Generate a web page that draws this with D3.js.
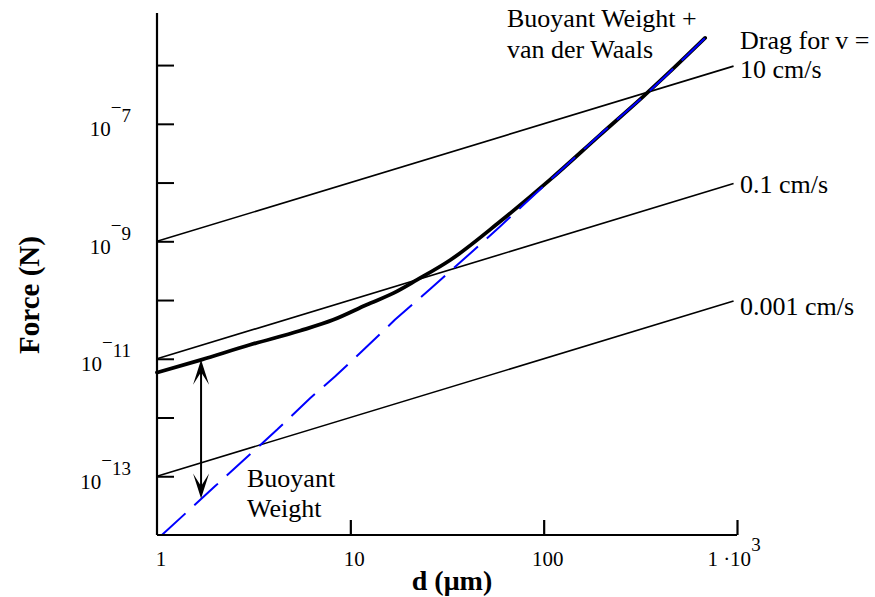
<!DOCTYPE html>
<html><head><meta charset="utf-8">
<script src="https://cdn.jsdelivr.net/npm/d3@7"></script>
<style>
body{margin:0;background:#fff;}
svg{display:block;}
text{font-family:"Liberation Serif","Times New Roman",serif;fill:#000;}
</style></head>
<body>
<svg id="chart" width="875" height="597"></svg>
<script>
// ---- data ----
const xTicks = [1, 10, 100, 1000];
const xTickLabels = ["1", "10", "100", "1 ·10"];
const xTickSup = ["", "", "", "3"];
const yMajor = [1e-13, 1e-11, 1e-9, 1e-7];
const yMajorExp = ["13", "11", "9", "7"];
const yAllTicks = [1e-13, 1e-12, 1e-11, 1e-10, 1e-9, 1e-8, 1e-7, 1e-6];
const xDomain = [1, 1000];
const yDomain = [1e-14, 7.7e-6];

const dragD = [1, 960];
const drag10 = [1e-9, 9.6e-7];
const drag01 = [1e-11, 9.6e-9];
const drag0001 = [1e-13, 9.6e-11];

const bwD = [1.06, 2, 3, 4.2, 6.19, 8.33, 11.2, 17, 25.8, 39.2, 59.5, 108, 196, 328, 433, 684];
const bwF = [1.0e-14, 6.8e-14, 2.3e-13, 6.3e-13, 2.13e-12, 4.98e-12, 1.24e-11, 4.6e-11, 1.53e-10, 5.18e-10, 1.79e-9, 1.1e-8, 6.6e-8, 2.9e-7, 6.8e-7, 2.9e-6];

const bvD = [1, 1.69, 3.03, 5.49, 8.16, 12.15, 16.7, 22.1, 32.9, 59.5, 108, 196, 328, 433, 684];
const bvF = [5.82e-12, 9.6e-12, 1.73e-11, 3.0e-11, 4.6e-11, 8.3e-11, 1.31e-10, 2.2e-10, 4.8e-10, 2.17e-9, 1.12e-8, 6.5e-8, 2.93e-7, 6.85e-7, 2.9e-6];

const arrowD = 1.69, arrowTop = 9.6e-12, arrowBottom = 4.2e-14;

// ---- layout ----
const svg = d3.select("#chart");
const x = d3.scaleLog().domain(xDomain).range([157, 737]);
const y = d3.scaleLog().domain(yDomain).range([535, 13]);

const line = d3.line().x(d => x(d[0])).y(d => y(d[1]));
const smooth = d3.line().x(d => x(d[0])).y(d => y(d[1])).curve(d3.curveMonotoneX);

// drag lines
[drag10, drag01, drag0001].forEach(s => {
  svg.append("path").attr("d", line(dragD.map((d, i) => [d, s[i]])))
    .attr("fill", "none").attr("stroke", "#000").attr("stroke-width", 1.6);
});

// buoyant weight + vdW (thick black)
svg.append("path").attr("d", smooth(bvD.map((d, i) => [d, bvF[i]])))
  .attr("fill", "none").attr("stroke", "#000").attr("stroke-width", 3.8)
  .attr("stroke-linejoin", "round").attr("stroke-linecap", "round");

// buoyant weight (blue dashed)
svg.append("path").attr("d", line(bwD.map((d, i) => [d, bwF[i]])))
  .attr("fill", "none").attr("stroke", "#0000ff").attr("stroke-width", 2)
  .attr("stroke-dasharray", "32,12");

// axes
const xAxis = d3.axisBottom(x).tickValues(xTicks.slice(1)).tickSize(-15).tickFormat("");
const gx = svg.append("g").attr("transform", "translate(0,535)").call(xAxis);
gx.select(".domain").attr("d", `M${x(1)},0H${x(1000)}`).attr("stroke-width", 2.2);
gx.selectAll(".tick line").attr("stroke-width", 2.2);

const yAxis = d3.axisLeft(y).tickValues(yAllTicks).tickSize(-17).tickFormat("");
const gy = svg.append("g").attr("transform", `translate(${x(1)},0)`).call(yAxis);
gy.select(".domain").attr("d", `M0,${y(yDomain[1])}V${y(yDomain[0])}`).attr("stroke-width", 2.2);
gy.selectAll(".tick line").attr("stroke-width", 2);

// x tick labels
xTicks.forEach((v, i) => {
  const last = i === xTicks.length - 1;
  const t = svg.append("text").attr("x", x(v) + (last ? -3 : 4)).attr("y", 566)
    .attr("text-anchor", "middle").attr("font-size", 21);
  t.append("tspan").text(xTickLabels[i]);
  if (xTickSup[i]) t.append("tspan").attr("dy", -15).attr("font-size", 19).text(xTickSup[i]);
});

// y tick labels
yMajor.forEach((v, i) => {
  const t = svg.append("text").attr("x", 131).attr("y", y(v) + 12.5)
    .attr("text-anchor", "end").attr("font-size", 21);
  t.append("tspan").text("10");
  t.append("tspan").attr("dy", -22).attr("font-size", 19).text("−");
  t.append("tspan").attr("dy", 8).attr("font-size", 19).text(yMajorExp[i]);
});

// axis titles
svg.append("text").attr("transform", "translate(39,295) rotate(-90)")
  .attr("text-anchor", "middle").attr("font-size", 29).attr("font-weight", "bold").text("Force (N)");
svg.append("text").attr("x", 452).attr("y", 590)
  .attr("text-anchor", "middle").attr("font-size", 28).attr("font-weight", "bold").text("d (μm)");

// annotations
const notes = [
  ["Buoyant Weight +", 507, 27],
  ["van der Waals", 507, 58],
  ["Drag for v =", 740, 49],
  ["10 cm/s", 740, 78],
  ["0.1 cm/s", 740, 193],
  ["0.001 cm/s", 740, 315],
  ["Buoyant", 247, 487],
  ["Weight", 247, 517]
];
notes.forEach(n => svg.append("text").attr("x", n[1]).attr("y", n[2]).attr("font-size", 26).text(n[0]));

// double arrow
const ax = x(arrowD), aTop = y(arrowTop), aBot = y(arrowBottom);
svg.append("line").attr("x1", ax).attr("x2", ax).attr("y1", aTop + 10).attr("y2", aBot - 10)
  .attr("stroke", "#000").attr("stroke-width", 2);
const head = "M0,0 L-8,25 L-1,14 L1,14 L8,25 Z";
svg.append("path").attr("d", head).attr("transform", `translate(${ax},${aTop})`).attr("fill", "#000");
svg.append("path").attr("d", head).attr("transform", `translate(${ax},${aBot}) rotate(180)`).attr("fill", "#000");
</script>
</body></html>
